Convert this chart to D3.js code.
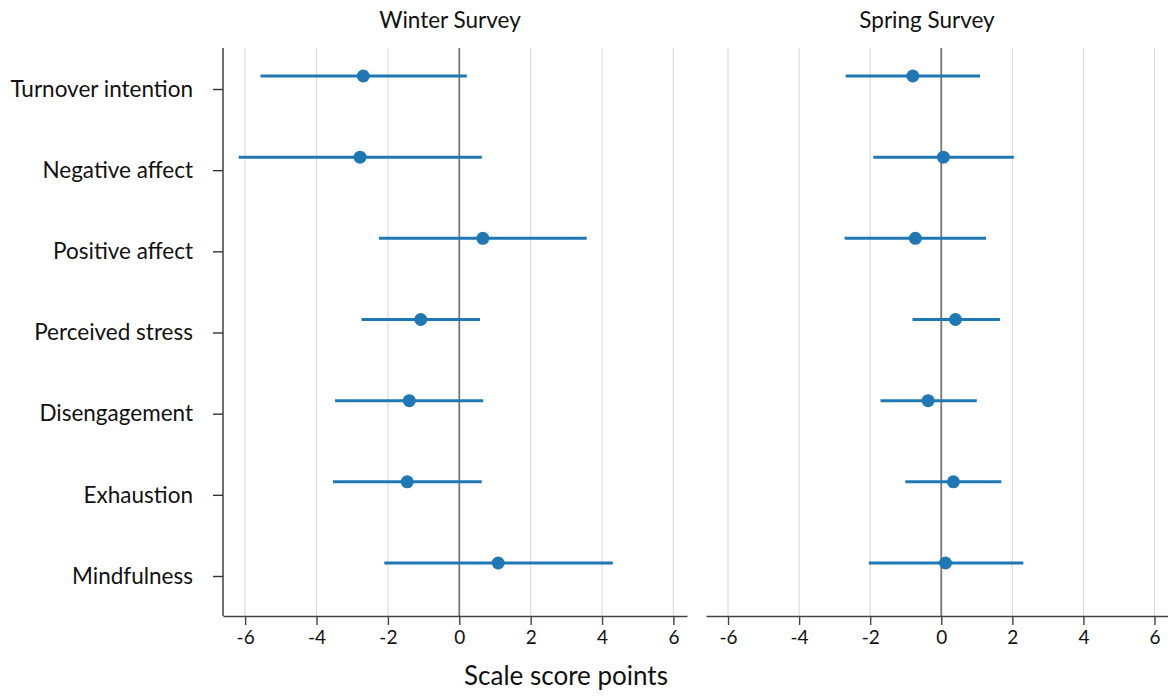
<!DOCTYPE html>
<html>
<head>
<meta charset="utf-8">
<script src="https://cdn.jsdelivr.net/npm/d3@7"></script>
<style>
  body { margin: 0; background: #fff; }
  svg { display: block; font-family: Lato, "Open Sans", sans-serif; }
  svg text { font-family: Lato, "Open Sans", sans-serif; fill: #111; }
</style>
</head>
<body>
<div id="chart"></div>
<script>
const categories = ['Turnover intention', 'Negative affect', 'Positive affect', 'Perceived stress',
  'Disengagement', 'Exhaustion', 'Mindfulness'];
const panels = ['Winter Survey', 'Spring Survey'];
const xTicks = [-6, -4, -2, 0, 2, 4, 6];

// estimate, lower, upper per category
const winterEst = [-2.69, -2.78, 0.66, -1.08, -1.40, -1.46, 1.09];
const winterLo = [-5.57, -6.18, -2.25, -2.74, -3.48, -3.54, -2.10];
const winterHi = [0.21, 0.63, 3.57, 0.58, 0.67, 0.63, 4.30];

const springEst = [-0.80, 0.06, -0.73, 0.40, -0.37, 0.34, 0.12];
const springLo = [-2.69, -1.91, -2.72, -0.81, -1.71, -1.01, -2.04];
const springHi = [1.09, 2.04, 1.26, 1.65, 1.00, 1.69, 2.31];

const width = 1168, height = 696;
const plotTop = 48, plotBottom = 616;
const blue = '#1f77b4';

const svg = d3.select('#chart').append('svg')
  .attr('width', width)
  .attr('height', height);

const y = d3.scalePoint().domain(categories).range([76, 563]);

const series = [
  { title: panels[0], est: winterEst, lo: winterLo, hi: winterHi, x0: 223, x1: 687, titleX: 450 },
  { title: panels[1], est: springEst, lo: springLo, hi: springHi, x0: 706, x1: 1168, titleX: 927 }
];

series.forEach((p, pi) => {
  const x = d3.scaleLinear().domain([-6.62, 6.38]).range([p.x0, p.x1]);
  const g = svg.append('g');

  // grid
  g.selectAll('.grid')
    .data(xTicks)
    .enter()
    .append('line')
    .attr('x1', d => x(d)).attr('x2', d => x(d))
    .attr('y1', plotTop).attr('y2', plotBottom)
    .attr('stroke', d => d === 0 ? '#777' : '#dcdcdc')
    .attr('stroke-width', d => d === 0 ? 1.8 : 1.2);

  // x axis, plain hyphen for negatives like the original
  const xa = g.append('g')
    .attr('transform', `translate(0,${plotBottom})`)
    .call(d3.axisBottom(x).tickValues(xTicks).tickFormat(d => String(d))
      .tickSize(9).tickPadding(6).tickSizeOuter(0));
  xa.select('.domain').attr('stroke', '#444').attr('stroke-width', 1.4);
  xa.selectAll('.tick line').attr('stroke', '#444').attr('stroke-width', 1.4);
  xa.selectAll('.tick text').style('font-size', '19px');

  // y axis only on first panel
  if (pi === 0) {
    g.append('line')
      .attr('x1', p.x0).attr('x2', p.x0)
      .attr('y1', plotTop).attr('y2', plotBottom)
      .attr('stroke', '#333').attr('stroke-width', 1.4);
    const ya = g.append('g')
      .attr('transform', `translate(${p.x0},13)`)
      .call(d3.axisLeft(y).tickSize(10).tickPadding(20));
    ya.select('.domain').remove();
    ya.selectAll('.tick line').attr('stroke', '#333').attr('stroke-width', 1.4);
    ya.selectAll('.tick text').style('font-size', '22.5px');
  }

  // intervals
  g.selectAll('.ci')
    .data(categories)
    .enter()
    .append('line')
    .attr('x1', (d, i) => x(p.lo[i]))
    .attr('x2', (d, i) => x(p.hi[i]))
    .attr('y1', d => y(d)).attr('y2', d => y(d))
    .attr('stroke', blue)
    .attr('stroke-width', 3);

  g.selectAll('.pt')
    .data(categories)
    .enter()
    .append('circle')
    .attr('cx', (d, i) => x(p.est[i]))
    .attr('cy', d => y(d))
    .attr('r', 6.5)
    .attr('fill', blue);

  svg.append('text')
    .attr('x', p.titleX)
    .attr('y', 28)
    .attr('text-anchor', 'middle')
    .style('font-size', '22.5px')
    .text(p.title);
});

svg.append('text')
  .attr('x', 566)
  .attr('y', 685)
  .attr('text-anchor', 'middle')
  .style('font-size', '26px')
  .text('Scale score points');
</script>
</body>
</html>
